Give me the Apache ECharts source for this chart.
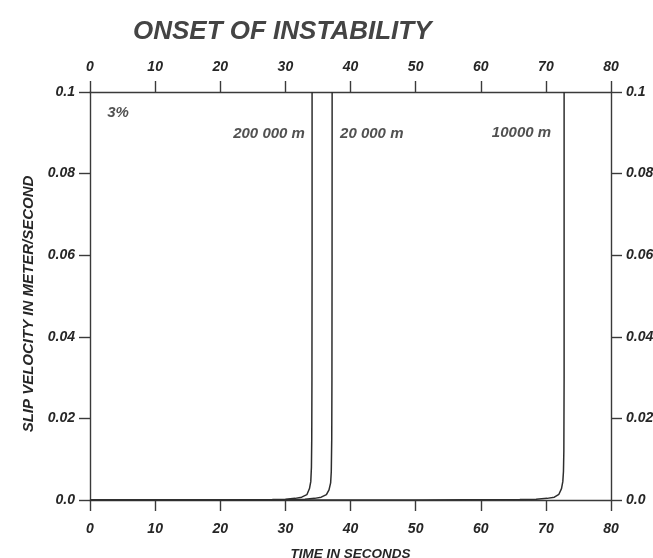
<!DOCTYPE html>
<html>
<head>
<meta charset="utf-8">
<title>Onset of instability</title>
<script src="https://cdn.jsdelivr.net/npm/echarts@6/dist/echarts.min.js"></script>
<style>
  html, body { margin: 0; padding: 0; background: #fff; }
  #chart { width: 653px; height: 558px; }
</style>
</head>
<body>
<div id="chart"></div>
<script>
// Slip velocity (m/s) versus time (s) for three fault lengths, 3% case.
const timeTicks = [0, 10, 20, 30, 40, 50, 60, 70, 80];
const velocityTicks = ['0.0', '0.02', '0.04', '0.06', '0.08', '0.1'];

const curve200000m = [
  [0, 0], [20, 0.00002], [28, 0.0001], [30, 0.0002], [31.5, 0.0004],
  [32.5, 0.0007], [33.3, 0.0013], [33.7, 0.0028], [33.9, 0.0045],
  [34.0, 0.008], [34.05, 0.015], [34.08, 0.03], [34.1, 0.06], [34.1, 0.1]
];
const curve20000m = [
  [0, 0], [25, 0.00002], [31, 0.0001], [33, 0.0002], [34.5, 0.0004],
  [35.5, 0.0007], [36.3, 0.0013], [36.7, 0.0025], [36.95, 0.0042],
  [37.05, 0.007], [37.12, 0.015], [37.15, 0.03], [37.17, 0.06], [37.18, 0.1]
];
const curve10000m = [
  [0, 0], [50, 0.00002], [66, 0.0001], [68.5, 0.0002], [70.2, 0.0004],
  [71.3, 0.0007], [72.0, 0.0014], [72.4, 0.0028], [72.6, 0.0045],
  [72.7, 0.007], [72.76, 0.012], [72.8, 0.03], [72.8, 0.06], [72.8, 0.1]
];

// Annotation text anchored in data coordinates: [time, velocity, text, align]
const annotations = [
  [4.3, 0.0949, '3%', 'center'],
  [33.0, 0.0897, '200 000 m', 'right'],
  [38.4, 0.0897, '20 000 m', 'left'],
  [70.8, 0.0900, '10000 m', 'right']
];

const FONT = '"Liberation Sans", Arial, Helvetica, sans-serif';
const INK = '#262626';
const axisLine = { show: true, onZero: false, lineStyle: { color: '#3a3a3a', width: 1.4 } };
const axisTick = { show: true, inside: false, length: 11, lineStyle: { color: '#3a3a3a', width: 1.4 } };
const tickText = { fontFamily: FONT, fontStyle: 'italic', fontWeight: 'bold', fontSize: 14, color: INK };

function xAxis(position, showName) {
  return {
    type: 'value', position: position, min: 0, max: 80, interval: 10,
    axisLine: axisLine, axisTick: axisTick, splitLine: { show: false },
    axisLabel: Object.assign({ margin: position === 'top' ? 18 : 22,
      formatter: v => String(timeTicks[Math.round(v / 10)]) }, tickText),
    name: showName ? 'TIME IN SECONDS' : '',
    nameLocation: 'middle', nameGap: 47,
    nameTextStyle: { fontFamily: FONT, fontStyle: 'italic', fontWeight: 'bold', fontSize: 13.5, color: INK }
  };
}
function yAxis(position, showName) {
  return {
    type: 'value', position: position, min: 0, max: 0.1, interval: 0.02,
    axisLine: axisLine, axisTick: axisTick, splitLine: { show: false },
    axisLabel: Object.assign({ margin: 15,
      formatter: v => velocityTicks[Math.round(v / 0.02)] }, tickText),
    name: showName ? 'SLIP VELOCITY IN METER/SECOND' : '',
    nameLocation: 'middle', nameGap: 50, nameRotate: 90,
    nameTextStyle: { fontFamily: FONT, fontStyle: 'italic', fontWeight: 'bold', fontSize: 15, color: INK,
      padding: [0, 16, 0, 0] }
  };
}

function curve(data) {
  return {
    type: 'line', data: data, showSymbol: false, smooth: false,
    lineStyle: { color: '#2e2e2e', width: 1.5 }, clip: true, animation: false
  };
}

const chart = echarts.init(document.getElementById('chart'));
chart.setOption({
  backgroundColor: '#ffffff',
  animation: false,
  title: {
    text: 'ONSET OF INSTABILITY', left: 128, top: 14,
    textStyle: { fontFamily: FONT, fontStyle: 'italic', fontWeight: 'bold', fontSize: 26, color: '#444444' }
  },
  grid: { left: 90, right: 42, top: 92, bottom: 58, outerBoundsMode: 'none', containLabel: false },
  xAxis: [xAxis('bottom', true), xAxis('top', false)],
  yAxis: [yAxis('left', true), yAxis('right', false)],
  series: [
    curve(curve200000m),
    curve(curve20000m),
    curve(curve10000m),
    {
      type: 'scatter', symbolSize: 0, animation: false,
      data: annotations.map(a => ({
        value: [a[0], a[1]],
        label: {
          show: true, position: 'inside', formatter: a[2], align: a[3], verticalAlign: 'middle',
          fontFamily: FONT, fontStyle: 'italic', fontWeight: 'bold', fontSize: 15, color: INK
        }
      }))
    }
  ]
});
</script>
</body>
</html>
